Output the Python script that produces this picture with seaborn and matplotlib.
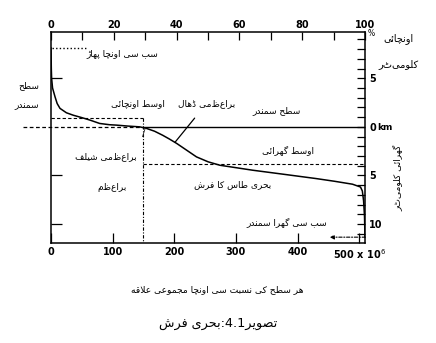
import numpy as np
import pandas as pd
import matplotlib
matplotlib.use("Agg")
import matplotlib.pyplot as plt
import seaborn as sns
from matplotlib import font_manager, ft2font

# ---------------- data ----------------
# cumulative area (10^6 km^2) above a given height (km)
area = [0, 0.5, 1, 2.5, 6.5, 10, 14.6, 25, 36, 50, 63, 79, 95, 106, 125, 144,
        155, 168, 181, 192, 204, 220, 236, 255, 274, 300, 327, 380, 430,
        460, 489, 502, 505, 507, 508.5, 509.3]
height = [8.15, 6.0, 5.0, 4.0, 3.1, 2.4, 1.9, 1.45, 1.2, 0.95, 0.7, 0.35, 0.22,
          0.18, 0.08, 0.0, -0.16, -0.45, -0.86, -1.25, -1.71, -2.4, -3.09,
          -3.6, -3.95, -4.2, -4.46, -4.9, -5.32, -5.6, -5.9, -6.19, -6.6,
          -7.6, -9.2, -11.35]

total_area = 510          # 10^6 km^2
land_area = 149           # 10^6 km^2
mean_land_height = 0.87   # km
mean_ocean_depth = -3.77  # km
highest_point = 8.15      # km
deepest_point = -11.35    # km

bottom_ticks = [0, 100, 200, 300, 400, 500]
bottom_labels = ["0", "100", "200", "300", "400", "500 x 10$^6$"]
top_ticks = [0, 20, 40, 60, 80, 100]
top_labels = ["0", "20", "40", "60", "80", "100"]
right_ticks = [5, 0, -5, -10]
right_labels = ["5", "0", "5", "10"]

# ---------------- Urdu shaping (matplotlib has no complex text layout) ----
_F = {
    '\u0627': ('\uFE8D', '\uFE8E', None, None),
    '\u0622': ('\uFE81', '\uFE82', None, None),
    '\u0628': ('\uFE8F', '\uFE90', '\uFE91', '\uFE92'),
    '\u062A': ('\uFE95', '\uFE96', '\uFE97', '\uFE98'),
    '\u062C': ('\uFE9D', '\uFE9E', '\uFE9F', '\uFEA0'),
    '\u062D': ('\uFEA1', '\uFEA2', '\uFEA3', '\uFEA4'),
    '\u062F': ('\uFEA9', '\uFEAA', None, None),
    '\u0631': ('\uFEAD', '\uFEAE', None, None),
    '\u0633': ('\uFEB1', '\uFEB2', '\uFEB3', '\uFEB4'),
    '\u0634': ('\uFEB5', '\uFEB6', '\uFEB7', '\uFEB8'),
    '\u0635': ('\uFEB9', '\uFEBA', '\uFEBB', '\uFEBC'),
    '\u0637': ('\uFEC1', '\uFEC2', '\uFEC3', '\uFEC4'),
    '\u0639': ('\uFEC9', '\uFECA', '\uFECB', '\uFECC'),
    '\u0641': ('\uFED1', '\uFED2', '\uFED3', '\uFED4'),
    '\u0642': ('\uFED5', '\uFED6', '\uFED7', '\uFED8'),
    '\u0644': ('\uFEDD', '\uFEDE', '\uFEDF', '\uFEE0'),
    '\u0645': ('\uFEE1', '\uFEE2', '\uFEE3', '\uFEE4'),
    '\u0646': ('\uFEE5', '\uFEE6', '\uFEE7', '\uFEE8'),
    '\u0648': ('\uFEED', '\uFEEE', None, None),
    '\u0626': ('\uFE89', '\uFE8A', '\uFE8B', '\uFE8C'),
    '\u067E': ('\uFB56', '\uFB57', '\uFB58', '\uFB59'),
    '\u0686': ('\uFB7A', '\uFB7B', '\uFB7C', '\uFB7D'),
    '\u0688': ('\uFB88', '\uFB89', None, None),
    '\u0691': ('\uFB8C', '\uFB8D', None, None),
    '\u06A9': ('\uFB8E', '\uFB8F', '\uFB90', '\uFB91'),
    '\u06AF': ('\uFB92', '\uFB93', '\uFB94', '\uFB95'),
    '\u06C1': ('\uFBA6', '\uFBA7', '\uFBA8', '\uFBA9'),
    '\u06BE': ('\uFBAA', '\uFBAB', '\uFBAC', '\uFBAD'),
    '\u06CC': ('\uFBFC', '\uFBFD', '\uFBFE', '\uFBFF'),
    '\u06D2': ('\uFBAE', '\uFBAF', None, None),
    '\u06BA': ('\uFB9E', '\uFB9F', None, None),
}
# glyph substitutes for presentation forms the font lacks
_SUB = {
    '\uFBA6': ['\u06C1', '\uFEE9'], '\uFBA7': ['\uFEEA'],
    '\uFBA8': ['\uFEEB'], '\uFBA9': ['\uFEEC'],
    '\uFBAE': ['\u06D2', '\uFEEF'], '\uFBAF': ['\uFEF0'],
}
_path = font_manager.findfont("DejaVu Sans")
_cmap = ft2font.FT2Font(_path).get_charmap()


def _g(ch):
    if ord(ch) in _cmap:
        return ch
    for alt in _SUB.get(ch, []):
        if ord(alt) in _cmap:
            return alt
    return ch


def _shape(word):
    out, i, n = [], 0, len(word)
    while i < n:
        c = word[i]
        prev = word[i - 1] if i > 0 else ''
        jp = prev in _F and _F[prev][2] is not None
        if c == '\u0644' and i + 1 < n and word[i + 1] == '\u0627':
            out.append('\uFEFC' if jp else '\uFEFB')
            i += 2
            continue
        if c not in _F:
            out.append(c)
            i += 1
            continue
        nxt = word[i + 1] if i + 1 < n else ''
        jn = _F[c][2] is not None and nxt in _F
        iso, fin, ini, med = _F[c]
        out.append(_g(med if (jp and jn) else fin if jp else ini if jn else iso))
        i += 1
    return ''.join(out)


def rtl(s):
    return _shape(s)[::-1]


# ---------------- figure ----------------
sns.set_theme(style="ticks")
plt.rcParams['font.family'] = ['DejaVu Sans']
W, H = 436, 343
fig = plt.figure(figsize=(W / 100, H / 100), dpi=100)
fig.patch.set_facecolor("white")
ax = fig.add_axes([51 / W, 1 - 243 / H, 314 / W, (243 - 32.3) / H])
ax.set_facecolor("white")

df = pd.DataFrame({"area": area, "height": height})
sns.lineplot(data=df, x="area", y="height", ax=ax, color="black", lw=1.1,
             sort=False, estimator=None)

ax.set_xlim(0, 509.3)
ax.set_ylim(-11.95, 9.73)
ax.set_xlabel("")
ax.set_ylabel("")

# reference lines
ax.plot([-45, land_area], [0, 0], color="black", lw=0.9, ls=(0, (3, 2)),
        clip_on=False)
ax.plot([land_area, total_area], [0, 0], color="black", lw=1.0)
ax.plot([0, land_area], [mean_land_height] * 2, color="black", lw=0.8,
        ls=(0, (3, 2)))
ax.plot([land_area, land_area], [mean_land_height, -11.95], color="black",
        lw=0.8, ls=(0, (3, 1.5, 1, 1.5)))
ax.plot([land_area, total_area], [mean_ocean_depth] * 2, color="black",
        lw=0.8, ls=(0, (3, 2)))
ax.plot([1, 58], [highest_point] * 2, color="black", lw=1.0,
        ls=(0, (1, 1.6)))
ax.annotate("", xy=(452, deepest_point), xytext=(total_area, deepest_point),
            arrowprops=dict(arrowstyle="-|>", lw=0.8, ls=(0, (3, 1.5, 1, 1.5)),
                            color="black", mutation_scale=6,
                            shrinkA=0, shrinkB=0))
ax.text(land_area + 1, -0.6, "/", fontsize=8, ha="center", va="center")

# pointer for continental slope
ax.annotate("", xy=(201, np.interp(201, area, height)), xytext=(233, 0.9),
            arrowprops=dict(arrowstyle="-", lw=0.9, color="black",
                            shrinkA=0, shrinkB=0))

# spines / ticks
for s in ax.spines.values():
    s.set_color("black")
    s.set_linewidth(1.1)

ax.set_xticks(bottom_ticks)
ax.set_xticklabels(bottom_labels, fontsize=7, fontweight="bold")
ax.set_yticks([5, -5, -10])
ax.set_yticklabels([])
ax.tick_params(axis="x", direction="in", length=7, width=0.9, pad=3,
               colors="black")
ax.tick_params(axis="y", direction="in", length=8, width=0.9, colors="black")

ax2 = ax.twiny()
ax2.set_xlim(0, 100)
ax2.set_xticks(top_ticks)
ax2.set_xticklabels(top_labels, fontsize=7, fontweight="bold")
ax2.set_xticks(np.arange(10, 100, 20), minor=True)
ax2.tick_params(axis="x", which="both", direction="in", length=6, width=0.9,
                pad=2, colors="black")

ax3 = ax.twinx()
ax3.set_ylim(ax.get_ylim())
ax3.set_yticks(right_ticks)
ax3.set_yticklabels(right_labels, fontsize=7, fontweight="bold")
ax3.set_yticks(np.arange(-11, 10, 1), minor=True)
ax3.tick_params(axis="y", which="both", direction="in", length=6, width=0.9,
                pad=3, colors="black")
for a in (ax2, ax3):
    for s in a.spines.values():
        s.set_visible(False)


def ptext(x, y, s, size=6.5, **kw):
    fig.text(x / W, 1 - y / H, s, fontsize=size, ha="center", va="center",
             color="black", **kw)


ptext(385, 127, "km", size=6.5, fontweight="bold")
ptext(371, 33, "%", size=5.5)

ptext(122, 54, rtl("سب سے اونچا پہاڑ"))
ptext(29, 86, rtl("سطح"))
ptext(27, 106, rtl("سمندر"))
ptext(138, 104, rtl("اوسط اونچائی"))
ptext(207, 104, rtl("براعظمی ڈھال"))
ptext(277, 111, rtl("سطح سمندر"))
ptext(288, 150, rtl("اوسط گہرائی"))
ptext(233, 185, rtl("بحری طاس کا فرش"))
ptext(106, 157, rtl("براعظمی شیلف"))
ptext(112, 188, rtl("براعظم"))
ptext(287, 222, rtl("سب سے گہرا سمندر"))
ptext(398, 39, rtl("اونچائی"), size=7)
ptext(398, 64, rtl("کلومیٹر"), size=7)
ptext(398, 178, rtl("گہرائی کلومیٹر"), rotation=90)

ptext(217, 290, rtl("ہر سطح کی نسبت سے اونچا مجموعی علاقہ"), size=6.6)
ptext(218, 323, rtl("بحری فرش") + ":4.1" + rtl("تصویر"), size=9.2)

fig.savefig("out.png", dpi=100, facecolor="white")
